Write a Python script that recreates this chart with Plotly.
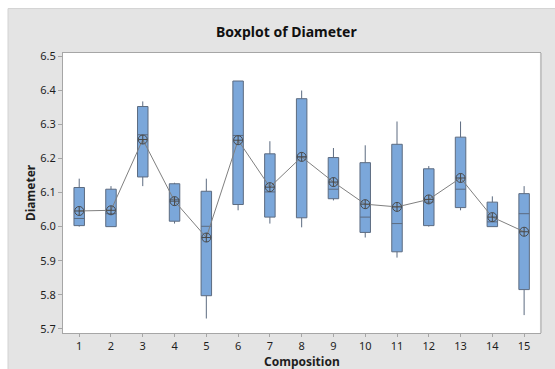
import plotly.graph_objects as go

# Box statistics for each composition
composition = list(range(1, 16))
q1 = [6.003, 6.000, 6.146, 6.016, 5.797, 6.065, 6.028, 6.026, 6.082, 5.983, 5.926, 6.003, 6.056, 6.000, 5.815]
median = [6.024, 6.038, 6.270, 6.080, 6.001, 6.268, 6.102, 6.205, 6.110, 6.028, 6.009, 6.072, 6.110, 6.014, 6.038]
q3 = [6.115, 6.110, 6.353, 6.126, 6.104, 6.428, 6.214, 6.376, 6.203, 6.188, 6.242, 6.170, 6.263, 6.072, 6.097]
whisker_low = [6.000, 6.000, 6.119, 6.009, 5.730, 6.048, 6.009, 5.998, 6.077, 5.968, 5.909, 6.000, 6.048, 6.000, 5.740]
whisker_high = [6.141, 6.119, 6.368, 6.129, 6.141, 6.428, 6.251, 6.400, 6.231, 6.239, 6.309, 6.178, 6.309, 6.089, 6.119]
mean = [6.046, 6.048, 6.256, 6.075, 5.968, 6.254, 6.116, 6.205, 6.131, 6.066, 6.058, 6.080, 6.143, 6.028, 5.985]
y_ticks = [5.7, 5.8, 5.9, 6.0, 6.1, 6.2, 6.3, 6.4, 6.5]

FONT = "Noto Sans"
TEXT = "#1e1e1e"
FRAME = "#a6a6a6"

# plot area size in pixels (used to place titles and frame pieces)
PW, PH = 477, 280.5

fig = go.Figure()

fig.add_trace(go.Box(
    x=composition,
    q1=q1, median=median, q3=q3,
    lowerfence=whisker_low, upperfence=whisker_high,
    boxpoints=False,
    width=0.33,
    whiskerwidth=0,
    fillcolor="#7ba7da",
    line=dict(color="#5c6b80", width=1),
    hoverinfo="skip",
    showlegend=False,
))

fig.add_trace(go.Scatter(
    x=composition, y=mean,
    mode="lines+markers",
    line=dict(color="#808080", width=1),
    marker=dict(symbol="circle-cross-open", size=9,
                color="#4a4a4a", line=dict(width=1, color="#4a4a4a")),
    showlegend=False,
    hoverinfo="skip",
))

fig.update_layout(
    width=555, height=369,
    margin=dict(l=63, r=15, t=52.5, b=36),
    paper_bgcolor="#e4e4e4",
    plot_bgcolor="white",
    font=dict(family=FONT, color=TEXT, size=11),
    title=dict(text="<b>Boxplot of Diameter</b>", x=0.516, xanchor="center",
               y=1 - 32.5 / 369, yanchor="middle",
               font=dict(size=14, family=FONT, color="#111111")),
    annotations=[
        dict(text="<b>Composition</b>", xref="paper", yref="paper",
             x=0.5, y=-28.5 / PH, xanchor="center", yanchor="middle",
             showarrow=False, font=dict(size=12, color=TEXT)),
        dict(text="<b>Diameter</b>", xref="paper", yref="paper",
             x=-33 / PW, y=0.5, xanchor="center", yanchor="middle",
             textangle=-90, showarrow=False, font=dict(size=12, color=TEXT)),
    ],
    shapes=[
        # white strips framing the grey panel
        dict(type="rect", xref="paper", yref="paper",
             x0=-0.2, x1=1.1, y0=1 + 44.5 / PH, y1=1.3,
             fillcolor="white", line=dict(width=0), layer="below"),
        dict(type="rect", xref="paper", yref="paper",
             x0=-0.2, x1=-55 / PW, y0=-0.2, y1=1.3,
             fillcolor="white", line=dict(width=0), layer="below"),
        dict(type="line", xref="paper", yref="paper",
             x0=-55 / PW, x1=1.1, y0=1 + 44.5 / PH, y1=1 + 44.5 / PH,
             line=dict(color="#d2d2d2", width=1)),
        dict(type="line", xref="paper", yref="paper",
             x0=-55 / PW, x1=-55 / PW, y0=-0.2, y1=1 + 44.5 / PH,
             line=dict(color="#d2d2d2", width=1)),
        # heavier edge on the right side of the plot frame
        dict(type="line", xref="paper", yref="paper",
             x0=1.002, x1=1.002, y0=0, y1=1,
             line=dict(color="#c4c4c4", width=2)),
    ],
)

fig.update_xaxes(
    range=[0.49, 15.5],
    automargin=False,
    tickmode="array", tickvals=composition,
    ticks="outside", ticklen=3, tickcolor=FRAME,
    showgrid=False, zeroline=False,
    showline=True, linecolor=FRAME, linewidth=1, mirror=True,
    tickfont=dict(size=11, color=TEXT),
)

fig.update_yaxes(
    range=[5.6874, 6.5103],
    automargin=False,
    tickmode="array", tickvals=y_ticks, tickformat=".1f",
    ticks="outside", ticklen=4, tickcolor=FRAME,
    showgrid=False, zeroline=False,
    showline=True, linecolor=FRAME, linewidth=1, mirror=True,
    tickfont=dict(size=11, color=TEXT),
)

fig.write_html("out.html")
